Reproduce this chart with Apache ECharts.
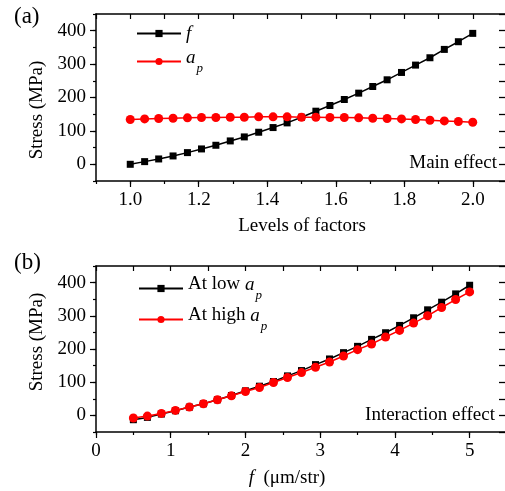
<!DOCTYPE html>
<html>
<head>
<meta charset="utf-8">
<script src="https://cdn.jsdelivr.net/npm/echarts@6/dist/echarts.min.js"></script>
<style>html,body{margin:0;padding:0;background:#fff}#c{width:505px;height:491px}</style>
</head>
<body>
<div id="c"></div>
<script>
// ---- data ----
var levels = [1.000,1.042,1.083,1.125,1.167,1.208,1.250,1.292,1.333,1.375,1.417,1.458,1.500,1.542,1.583,1.625,1.667,1.708,1.750,1.792,1.833,1.875,1.917,1.958,2.000];
var fMain  = [0,8,16,25,35,46,57,70,82,96,110,124,141,159,176,194,213,233,253,275,297,319,344,367,392];
var apMain = [134,136,137,138,139,140,140,141,141,142,142,142,141,141,140,140,139,138,137,136,134,132,130,128,126];
var feeds  = [0.5,0.6875,0.875,1.0625,1.25,1.4375,1.625,1.8125,2.0,2.1875,2.375,2.5625,2.75,2.9375,3.125,3.3125,3.5,3.6875,3.875,4.0625,4.25,4.4375,4.625,4.8125,5.0];
var lowAp  = [-13,-6,4,14,25,35,47,60,74,88,102,119,135,153,170,189,208,229,249,271,294,318,341,366,392];
var highAp = [-8,-2,6,15,25,35,47,59,72,84,99,114,129,145,161,179,198,215,236,256,278,300,325,349,372];
var xTicksA = [1.0,1.2,1.4,1.6,1.8,2.0];
var xTicksB = [0,1,2,3,4,5];
var yTicks  = [0,100,200,300,400];

function pairs(xs, ys){ return xs.map(function(x,i){ return [x, ys[i]]; }); }

var FONT = 'Liberation Serif';
var lab = {color:'#000', fontFamily:FONT, fontSize:19};
var rich = {
  i:{fontFamily:FONT, fontSize:19, fontStyle:'italic', color:'#000', verticalAlign:'top'},
  t:{fontFamily:FONT, fontSize:19, color:'#000', verticalAlign:'top'},
  s:{fontFamily:FONT, fontSize:13, fontStyle:'italic', color:'#000', verticalAlign:'top', padding:[14,0,0,1]}
};
var axLine = {show:true, onZero:false, lineStyle:{color:'#000', width:1.5}};
var noLine = {show:false, onZero:false};

function xAxes(grid, min, max, minorStep, major, fmt){
  return [
    {gridIndex:grid, type:'value', position:'bottom', min:min, max:max, interval:minorStep,
     axisLine:axLine, axisTick:{show:true, inside:false, length:3, lineStyle:{color:'#000',width:1.2}},
     axisLabel:{show:false}, splitLine:{show:false}},
    {gridIndex:grid, type:'value', position:'bottom', min:min, max:max, interval:minorStep,
     axisLine:noLine, axisTick:{show:true, inside:false, length:6, customValues:major, lineStyle:{color:'#000',width:1.2}},
     axisLabel:Object.assign({show:true, margin:10, customValues:major, formatter:fmt}, lab), splitLine:{show:false}},
    {gridIndex:grid, type:'value', position:'top', min:min, max:max, interval:minorStep,
     axisLine:axLine, axisTick:{show:true, inside:true, length:5, lineStyle:{color:'#000',width:1.2}},
     axisLabel:{show:false}, splitLine:{show:false}}
  ];
}
function yAxes(grid){
  return [
    {gridIndex:grid, type:'value', position:'left', min:-50, max:450, interval:50,
     axisLine:axLine, axisTick:{show:true, inside:false, length:3, lineStyle:{color:'#000',width:1.2}},
     axisLabel:{show:false}, splitLine:{show:false}},
    {gridIndex:grid, type:'value', position:'left', min:-50, max:450, interval:50,
     axisLine:noLine, axisTick:{show:true, inside:false, length:6, customValues:yTicks, lineStyle:{color:'#000',width:1.2}},
     axisLabel:Object.assign({show:true, margin:10, customValues:yTicks}, lab), splitLine:{show:false}},
    {gridIndex:grid, type:'value', position:'right', min:-50, max:450, interval:50,
     axisLine:axLine, axisTick:{show:true, inside:true, length:8, lineStyle:{color:'#000',width:1.3}},
     axisLabel:{show:false}, splitLine:{show:false}}
  ];
}

var blackS = {type:'line', symbol:'rect', symbolSize:7, color:'#000', lineStyle:{color:'#000', width:1.5}, itemStyle:{color:'#000'}, animation:false};
var redS   = {type:'line', symbol:'circle', symbolSize:9, color:'#f00', lineStyle:{color:'#f00', width:1.5}, itemStyle:{color:'#f00'}, animation:false};

var chart = echarts.init(document.getElementById('c'), null, {renderer:'canvas'});
chart.setOption({
  backgroundColor:'#fff',
  animation:false,
  grid:[
    {left:96, top:14, width:411, height:167, outerBoundsMode:'none', containLabel:false},
    {left:96, top:266, width:411, height:166, outerBoundsMode:'none', containLabel:false}
  ],
  xAxis: xAxes(0, 0.9, 2.1, 0.1, xTicksA, function(v){return v.toFixed(1);})
         .concat(xAxes(1, 0, 5.5, 0.5, xTicksB, function(v){return String(v);})),
  yAxis: yAxes(0).concat(yAxes(1)),
  legend:[
    {data:['f','ap'], orient:'vertical', left:131, top:19, itemWidth:44, itemHeight:9, itemGap:5,
     textStyle:{rich:rich},
     formatter:function(n){ return n==='f' ? '{i|f}' : '{i|a}{s|p}'; }},
    {data:['low','high'], orient:'vertical', left:133, top:270, itemWidth:44, itemHeight:9, itemGap:4,
     textStyle:{rich:rich},
     formatter:function(n){ return n==='low' ? '{t|At low }{i|a}{s|p}' : '{t|At high }{i|a}{s|p}'; }}
  ],
  series:[
    Object.assign({name:'f', xAxisIndex:0, yAxisIndex:0, data:pairs(levels, fMain)}, blackS),
    Object.assign({name:'ap', xAxisIndex:0, yAxisIndex:0, data:pairs(levels, apMain)}, redS),
    Object.assign({name:'low', xAxisIndex:3, yAxisIndex:3, data:pairs(feeds, lowAp)}, blackS),
    Object.assign({name:'high', xAxisIndex:3, yAxisIndex:3, data:pairs(feeds, highAp)}, redS)
  ],
  graphic:[
    {type:'text', left:14, top:5, style:{text:'(a)', fontFamily:FONT, fontSize:23, fill:'#000'}},
    {type:'text', left:14, top:251, style:{text:'(b)', fontFamily:FONT, fontSize:23, fill:'#000'}},
    {type:'text', x:37, y:110, rotation:Math.PI/2, style:{text:'Stress (MPa)', fontFamily:FONT, fontSize:19, fill:'#000', align:'center', verticalAlign:'middle'}},
    {type:'text', x:37, y:342, rotation:Math.PI/2, style:{text:'Stress (MPa)', fontFamily:FONT, fontSize:19, fill:'#000', align:'center', verticalAlign:'middle'}},
    {type:'text', x:302, y:226, style:{text:'Levels of factors', fontFamily:FONT, fontSize:19, fill:'#000', align:'center', verticalAlign:'middle'}},
    {type:'text', x:287, y:478, style:{text:'{i|f}{t|  (μm/str)}', rich:{i:{fontFamily:FONT,fontSize:19,fontStyle:'italic',fill:'#000'},t:{fontFamily:FONT,fontSize:19,fill:'#000'}}, align:'center', verticalAlign:'middle'}},
    {type:'text', x:497, y:163, style:{text:'Main effect', fontFamily:FONT, fontSize:19, fill:'#000', align:'right', verticalAlign:'middle'}},
    {type:'text', x:495, y:415, style:{text:'Interaction effect', fontFamily:FONT, fontSize:19, fill:'#000', align:'right', verticalAlign:'middle'}}
  ]
});
</script>
</body>
</html>
